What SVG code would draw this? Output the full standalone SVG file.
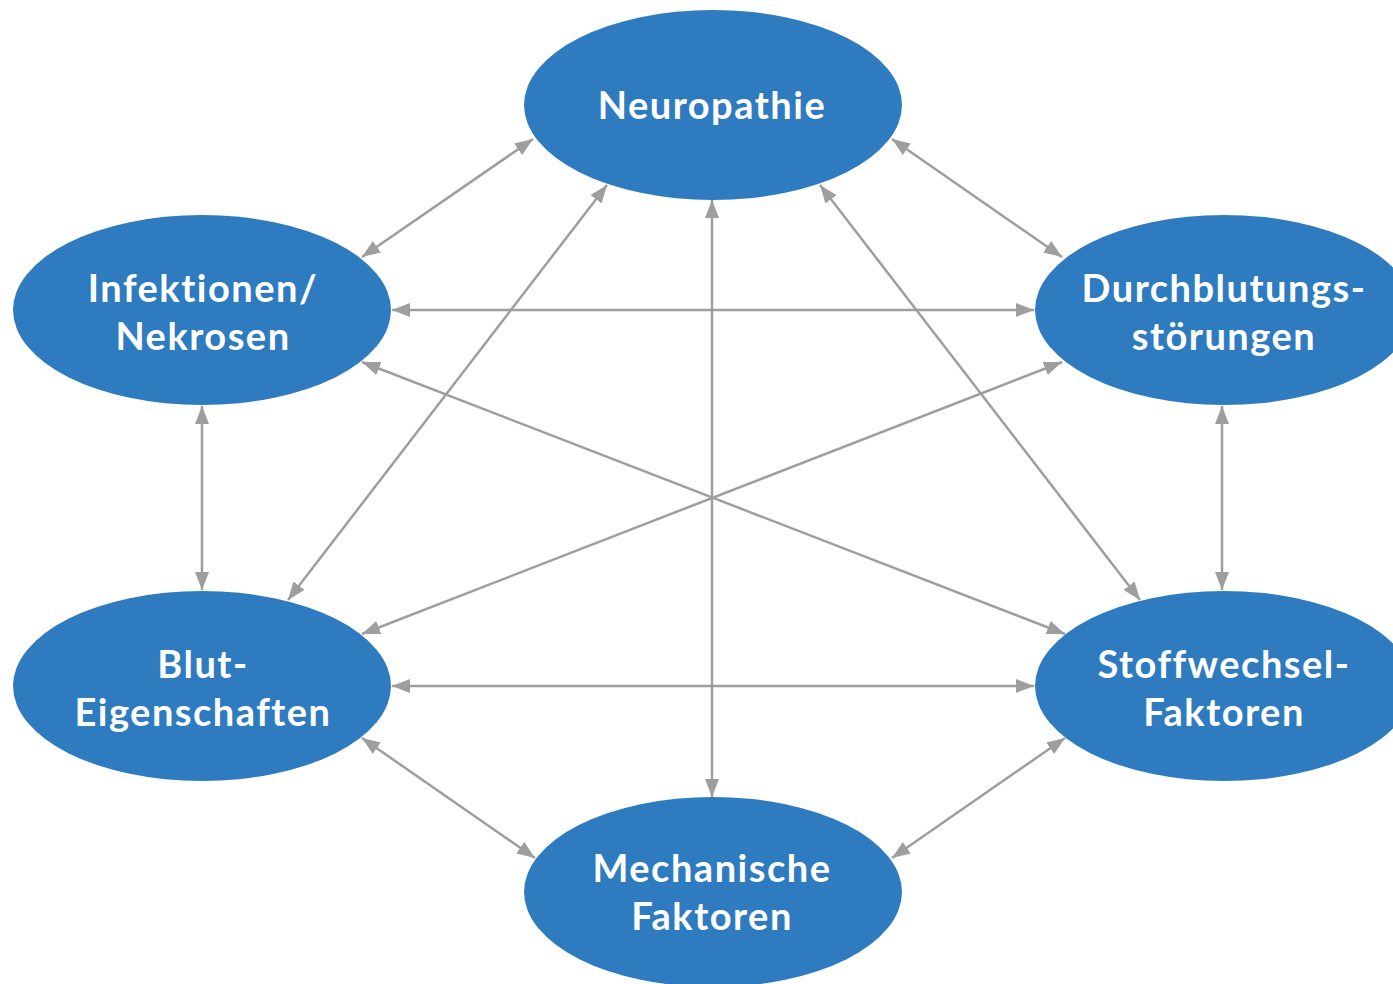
<svg xmlns="http://www.w3.org/2000/svg" width="1393" height="984" viewBox="0 0 1393 984">
  <style>
    .node ellipse { fill: #2e7bbf; }
    .node text { fill: #ffffff; font-family: Lato, "Open Sans", "Liberation Sans", sans-serif; font-weight: 700; font-size: 38px; letter-spacing: 1.5px; text-anchor: middle; }
    .links line { stroke: #9e9e9e; stroke-width: 2.5; fill: none; marker-start: url(#head); marker-end: url(#head); }
  </style>
  <defs>
    <marker id="head" viewBox="0 0 18 14" refX="18" refY="7" markerWidth="18" markerHeight="14" markerUnits="userSpaceOnUse" orient="auto-start-reverse">
      <path d="M0,0 L18,7 L0,14 Z" fill="#9e9e9e"/>
    </marker>
  </defs>
  <rect width="1393" height="984" fill="#ffffff"/>

  <g class="links" id="connectors">
    <line x1="533" y1="139" x2="362" y2="257"/>
    <line x1="892" y1="139" x2="1062" y2="257"/>
    <line x1="607" y1="185" x2="288" y2="600"/>
    <line x1="820" y1="185" x2="1140" y2="600"/>
    <line x1="712" y1="200" x2="712" y2="797"/>
    <line x1="392" y1="310" x2="1034" y2="310"/>
    <line x1="362" y1="362" x2="1065" y2="634"/>
    <line x1="1062" y1="362" x2="362" y2="634"/>
    <line x1="202" y1="406" x2="202" y2="590"/>
    <line x1="1222" y1="406" x2="1222" y2="590"/>
    <line x1="392" y1="686" x2="1034" y2="686"/>
    <line x1="362" y1="738" x2="535" y2="858"/>
    <line x1="1065" y1="738" x2="892" y2="858"/>
  </g>

  <g class="node" id="neuropathie">
    <ellipse cx="713" cy="105" rx="189" ry="95"/>
    <text x="712" y="119">Neuropathie</text>
  </g>
  <g class="node" id="infektionen">
    <ellipse cx="202" cy="310" rx="189" ry="95"/>
    <text x="203" y="302">Infektionen/</text>
    <text x="203" y="350">Nekrosen</text>
  </g>
  <g class="node" id="durchblutung">
    <ellipse cx="1224" cy="310" rx="189" ry="95"/>
    <text x="1224" y="302">Durchblutungs-</text>
    <text x="1224" y="350">störungen</text>
  </g>
  <g class="node" id="blut">
    <ellipse cx="202" cy="686" rx="189" ry="95"/>
    <text x="203" y="678">Blut-</text>
    <text x="203" y="726">Eigenschaften</text>
  </g>
  <g class="node" id="stoffwechsel">
    <ellipse cx="1224" cy="686" rx="189" ry="95"/>
    <text x="1224" y="678">Stoffwechsel-</text>
    <text x="1224" y="726">Faktoren</text>
  </g>
  <g class="node" id="mechanische">
    <ellipse cx="713" cy="892" rx="189" ry="95"/>
    <text x="712" y="882">Mechanische</text>
    <text x="712" y="930">Faktoren</text>
  </g>
</svg>
